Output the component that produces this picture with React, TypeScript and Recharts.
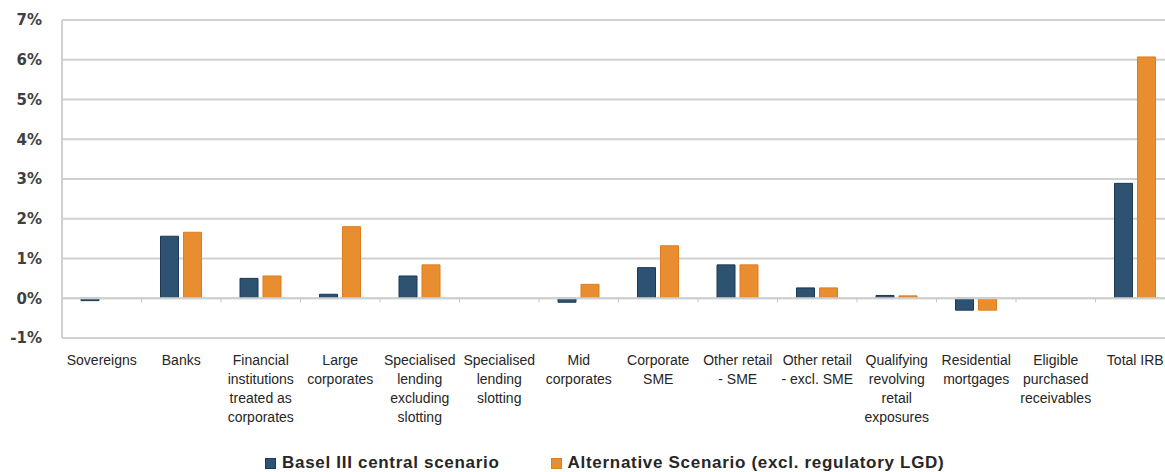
import { Bar, BarChart, CartesianGrid, ReferenceLine, XAxis, YAxis } from "recharts";

const categories = [
  "Sovereigns",
  "Banks",
  "Financial\ninstitutions\ntreated as\ncorporates",
  "Large\ncorporates",
  "Specialised\nlending\nexcluding\nslotting",
  "Specialised\nlending\nslotting",
  "Mid\ncorporates",
  "Corporate\nSME",
  "Other retail\n- SME",
  "Other retail\n- excl. SME",
  "Qualifying\nrevolving\nretail\nexposures",
  "Residential\nmortgages",
  "Eligible\npurchased\nreceivables",
  "Total IRB",
];

// impact in %
const baselCentral = [-0.06, 1.56, 0.5, 0.1, 0.56, 0, -0.1, 0.77, 0.84, 0.26, 0.07, -0.3, 0, 2.89];
const alternative = [0, 1.66, 0.56, 1.8, 0.84, 0, 0.35, 1.32, 0.84, 0.26, 0.06, -0.3, 0, 6.07];

const yTicks = [-1, 0, 1, 2, 3, 4, 5, 6, 7];

const seriesNames = ["Basel III central scenario", "Alternative Scenario (excl. regulatory LGD)"];

const BLUE = "#2e5272";
const BLUE_EDGE = "#1c3853";
const ORANGE = "#e88e30";
const ORANGE_EDGE = "#de7d1d";
const GRID = "#d0d0d0";

const data = categories.map((name, i) => ({
  name,
  basel: baselCentral[i],
  alt: alternative[i],
}));

function CategoryTick({ x, y, payload }: any) {
  const lines = String(payload.value).split("\n");
  return (
    <text
      x={x}
      y={y}
      textAnchor="middle"
      fill="#262626"
      style={{ fontFamily: "'Liberation Sans', Arial, sans-serif", fontSize: 14 }}
    >
      {lines.map((l, i) => (
        <tspan key={i} x={x} dy={19}>
          {l}
        </tspan>
      ))}
    </text>
  );
}

// zero line with small category separators below it
function ZeroLine(props: any) {
  const { x1, x2, y1 } = props;
  const step = (x2 - x1) / categories.length;
  const seps = categories.slice(1).map((_, i) => x1 + step * (i + 1));
  return (
    <g>
      <line x1={x1} x2={x2} y1={y1} y2={y1} stroke={GRID} strokeWidth={2} />
      {seps.map((sx, i) => (
        <line key={i} x1={sx} x2={sx} y1={y1} y2={y1 + 4} stroke="#c4c4c4" strokeWidth={1} />
      ))}
    </g>
  );
}

function LegendItem({ color, edge, label }: { color: string; edge: string; label: string }) {
  return (
    <span style={{ display: "inline-flex", alignItems: "center" }}>
      <span
        style={{
          width: 9,
          height: 9,
          background: color,
          border: `1px solid ${edge}`,
          marginRight: 6,
        }}
      />
      <span>{label}</span>
    </span>
  );
}

export default function App() {
  return (
    <div
      style={{
        position: "fixed",
        left: 0,
        top: 0,
        width: 1165,
        height: 472,
        overflow: "hidden",
        background: "#fff",
      }}
    >
      <BarChart
        width={1175}
        height={472}
        data={data}
        margin={{ top: 20, right: 0, left: 0, bottom: 44 }}
        barSize={18}
        barGap={5}
      >
        <CartesianGrid vertical={false} stroke={GRID} strokeWidth={2} />
        <XAxis
          dataKey="name"
          interval={0}
          axisLine={false}
          tickLine={false}
          height={90}
          tick={<CategoryTick />}
        />
        <YAxis
          type="number"
          domain={[-1, 7]}
          ticks={yTicks}
          interval={0}
          width={62}
          tickLine={false}
          tickMargin={14}
          axisLine={{ stroke: GRID, strokeWidth: 2 }}
          tickFormatter={(v: number) => `${v}%`}
          tick={{
            fill: "#404040",
            fontSize: 15,
            fontWeight: 700,
            fontFamily: "'DejaVu Sans', sans-serif",
          }}
        />
        <ReferenceLine y={0} shape={<ZeroLine />} />
        <Bar
          dataKey="basel"
          name={seriesNames[0]}
          fill={BLUE}
          stroke={BLUE_EDGE}
          strokeWidth={1}
          isAnimationActive={false}
        />
        <Bar
          dataKey="alt"
          name={seriesNames[1]}
          fill={ORANGE}
          stroke={ORANGE_EDGE}
          strokeWidth={1}
          isAnimationActive={false}
        />
      </BarChart>
      <div
        style={{
          position: "absolute",
          left: 265,
          top: 452,
          display: "flex",
          gap: 51,
          fontFamily: "'Liberation Sans', Arial, sans-serif",
          fontSize: 17,
          fontWeight: 700,
          letterSpacing: 0.7,
          color: "#262626",
          lineHeight: "22px",
          whiteSpace: "nowrap",
        }}
      >
        <LegendItem color={BLUE} edge={BLUE_EDGE} label={seriesNames[0]} />
        <LegendItem color={ORANGE} edge={ORANGE_EDGE} label={seriesNames[1]} />
      </div>
    </div>
  );
}
